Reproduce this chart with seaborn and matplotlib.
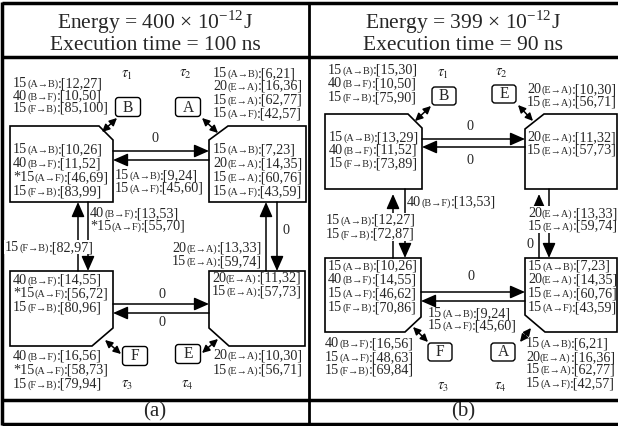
import re
import matplotlib.pyplot as plt
import seaborn as sns
from matplotlib.patches import Polygon, FancyBboxPatch, Rectangle

sns.set_theme(style="white")
plt.rcParams["font.family"] = ["Liberation Serif", "DejaVu Serif"]
plt.rcParams["mathtext.fontset"] = "stix"

# ---- valores del diagrama ----
energy = [400, 399]
exec_time = [100, 90]
tags = ["(a)", "(b)"]
nodes_a = ["B", "A", "F", "E"]
nodes_b = ["B", "E", "F", "A"]
taus = [r"$\tau_1$", r"$\tau_2$", r"$\tau_3$", r"$\tau_4$"]

# panel (a)
a_tl_out = ["15(A→B):[12,27]", "40(B→F):[10,50]", "15(F→B):[85,100]"]
a_tl_in = ["15(A→B):[10,26]", "40(B→F):[11,52]", "*15(A→F):[46,69]", "15(F→B):[83,99]"]
a_tr_out = ["15(A→B):[6,21]", "20(E→A):[16,36]", "15(E→A):[62,77]", "15(A→F):[42,57]"]
a_tr_in = ["15(A→B):[7,23]", "20(E→A):[14,35]", "15(E→A):[60,76]", "15(A→F):[43,59]"]
a_mid_top = ["15(A→B):[9,24]", "15(A→F):[45,60]"]
a_left_down = ["40(B→F):[13,53]", "*15(A→F):[55,70]"]
a_left_up = ["15(F→B):[82,97]"]
a_right_up = ["20(E→A):[13,33]", "15(E→A):[59,74]"]
a_bl_in = ["40(B→F):[14,55]", "*15(A→F):[56,72]", "15(F→B):[80,96]"]
a_br_in = ["20(E→A):[11,32]", "15(E→A):[57,73]"]
a_bl_out = ["40(B→F):[16,56]", "*15(A→F):[58,73]", "15(F→B):[79,94]"]
a_br_out = ["20(E→A):[10,30]", "15(E→A):[56,71]"]

# panel (b)
b_tl_out = ["15(A→B):[15,30]", "40(B→F):[10,50]", "15(F→B):[75,90]"]
b_tl_in = ["15(A→B):[13,29]", "40(B→F):[11,52]", "15(F→B):[73,89]"]
b_tr_out = ["20(E→A):[10,30]", "15(E→A):[56,71]"]
b_tr_in = ["20(E→A):[11,32]", "15(E→A):[57,73]"]
b_left_down = ["40(B→F):[13,53]"]
b_left_up = ["15(A→B):[12,27]", "15(F→B):[72,87]"]
b_right_up = ["20(E→A):[13,33]", "15(E→A):[59,74]"]
b_bl_in = ["15(A→B):[10,26]", "40(B→F):[14,55]", "15(A→F):[46,62]", "15(F→B):[70,86]"]
b_br_in = ["15(A→B):[7,23]", "20(E→A):[14,35]", "15(E→A):[60,76]", "15(A→F):[43,59]"]
b_mid_bot = ["15(A→B):[9,24]", "15(A→F):[45,60]"]
b_bl_out = ["40(B→F):[16,56]", "15(A→F):[48,63]", "15(F→B):[69,84]"]
b_br_out = ["15(A→B):[6,21]", "20(E→A):[16,36]", "15(E→A):[62,77]", "15(A→F):[42,57]"]

# ---- figura ----
fig = plt.figure(figsize=(6.18, 4.26), dpi=100)
ax = fig.add_axes([0, 0, 1, 1])
ax.set_xlim(0, 618)
ax.set_ylim(426, 0)
ax.axis("off")
R = fig.canvas.get_renderer()

BIG, SMALL = 10.2, 7.4


def label(x, y, s, ha="left", bg=False):
    m = re.match(r"(\*?\d+)(\(.*?\))(.*)", s)
    parts = [(m.group(1), BIG), (m.group(2), SMALL), (m.group(3), BIG)]
    ts = [ax.text(0, y + 4, p, fontsize=sz, va="baseline", ha="left", zorder=5) for p, sz in parts]
    ws = [t.get_window_extent(R).width for t in ts]
    x0 = x - sum(ws) if ha == "right" else x
    if bg:
        ax.add_patch(Rectangle((x0 - 1, y - 7), sum(ws) + 2, 14, fc="white", ec="none", zorder=4))
    for t, w in zip(ts, ws):
        t.set_x(x0)
        x0 += w


def column(x, ys, labels, **kw):
    for y, s in zip(ys, labels):
        label(x, y, s, **kw)


def arrow(p, q):
    ax.annotate("", xy=q, xytext=p, zorder=3,
                arrowprops=dict(arrowstyle="-|>,head_length=0.5,head_width=0.22", mutation_scale=18,
                                lw=1.1, color="black", shrinkA=0, shrinkB=0))


def darrow(p, q):
    ax.annotate("", xy=q, xytext=p, zorder=3,
                arrowprops=dict(arrowstyle="<|-|>,head_length=0.45,head_width=0.22", mutation_scale=10,
                                lw=1.1, color="black", shrinkA=0, shrinkB=0))


def box(pts):
    ax.add_patch(Polygon(pts, closed=True, fill=False, ec="black", lw=1.2, zorder=2))


def node(cx, cy, s, w=25, h=19):
    ax.add_patch(FancyBboxPatch((cx - w / 2, cy - h / 2), w, h, boxstyle="round,pad=0,rounding_size=3",
                                fc="white", ec="black", lw=1, zorder=2))
    ax.text(cx, cy + 0.5, s, fontsize=BIG + 1, ha="center", va="center", zorder=5)


def zero(x, y):
    ax.text(x, y, "0", fontsize=BIG, ha="center", va="center", zorder=5)


def tau(x, y, s):
    ax.text(x, y, s, fontsize=10.5, ha="center", va="center", zorder=5)


# tabla
for xs, ys, lw in [([2, 618], [3, 3], 2.5), ([2, 618], [57, 57], 2.5), ([2, 618], [400, 400], 2.5),
                   ([2, 618], [424, 424], 2.5), ([2, 2], [2, 425], 2.5), ([309, 309], [2, 425], 2)]:
    ax.plot(xs, ys, color="black", lw=lw, solid_capstyle="butt")

for i, cx in enumerate([155, 463]):
    ax.text(cx, 22, "Energy = " + str(energy[i]) + r" × 10$^{\mathregular{-12}}$J", fontsize=15.5,
            ha="center", va="center")
    ax.text(cx, 45, "Execution time = " + str(exec_time[i]) + " ns", fontsize=15.5, ha="center", va="center")
    ax.text(cx, 412, tags[i], fontsize=15, ha="center", va="center")

# ---- panel (a) ----
box([(10, 126), (99, 126), (113, 140), (113, 202), (10, 202)])
box([(209, 140), (228, 126), (306, 126), (306, 202), (209, 202)])
box([(10, 271), (113, 271), (113, 328), (92, 346), (10, 346)])
box([(209, 271), (305, 271), (305, 346), (229, 346), (209, 328)])
for (cx, cy), s in zip([(128, 107), (188, 107), (135, 356), (188, 354)], nodes_a):
    node(cx, cy, s)
darrow((102, 132), (117, 118))
darrow((218, 133), (202, 118))
darrow((105, 340), (121, 354))
darrow((202, 353), (218, 339))
arrow((113, 151), (209, 151))
arrow((209, 160), (113, 160))
arrow((113, 304), (209, 304))
arrow((209, 313), (113, 313))
arrow((78, 271), (78, 202))
arrow((88, 202), (88, 271))
arrow((266, 271), (266, 202))
arrow((277, 202), (277, 271))
zero(155, 139)
zero(162, 295)
zero(162, 322)
zero(286, 231)
for (x, y), s in zip([(127, 75), (185, 74), (127, 385), (187, 385)], taus):
    tau(x, y, s)
column(13, [83, 96, 108], a_tl_out)
column(13, [149, 163, 177, 191], a_tl_in)
column(213, [73, 86, 100, 113], a_tr_out)
column(213, [149, 163, 177, 191], a_tr_in)
column(115, [175, 188], a_mid_top)
column(90, [213, 226], a_left_down)
column(5, [247], a_left_up, bg=True)
column(262, [248, 261], a_right_up, ha="right", bg=True)
column(13, [280, 293, 307], a_bl_in)
column(212, [278, 291], a_br_in)
column(13, [356, 370, 384], a_bl_out)
column(213, [355, 370], a_br_out)

# ---- panel (b) ----
box([(325, 114), (408, 114), (422, 128), (422, 189), (325, 189)])
box([(525, 129), (544, 114), (617, 114), (617, 189), (525, 189)])
box([(325, 258), (421, 258), (421, 317), (405, 332), (325, 332)])
box([(525, 258), (617, 258), (617, 332), (545, 332), (525, 315)])
for (cx, cy), s in zip([(444, 96), (504, 94), (440, 352), (503, 352)], nodes_b):
    node(cx, cy, s, w=24, h=18)
darrow((415, 121), (431, 106))
darrow((533, 121), (518, 105))
darrow((413, 327), (428, 342))
darrow((520, 342), (531, 328))
arrow((422, 139), (525, 139))
arrow((525, 147), (422, 147))
arrow((421, 292), (525, 292))
arrow((525, 301), (421, 301))
arrow((393, 258), (393, 194))
arrow((405, 189), (405, 258))
arrow((539, 258), (539, 194))
arrow((549, 189), (549, 258))
zero(470, 127)
zero(470, 160)
zero(471, 277)
zero(530, 245)
for (x, y), s in zip([(443, 74), (501, 73), (443, 387), (500, 387)], taus):
    tau(x, y, s)
column(328, [70, 83, 97], b_tl_out)
column(329, [137, 150, 163], b_tl_in)
column(527, [89, 102], b_tr_out)
column(527, [137, 150], b_tr_in)
column(407, [202], b_left_down)
column(326, [220, 234], b_left_up, bg=True)
column(528, [213, 226], b_right_up, bg=True)
column(328, [266, 279, 293, 307], b_bl_in)
column(528, [266, 279, 293, 307], b_br_in)
column(428, [313, 325], b_mid_bot)
column(325, [343, 357, 370], b_bl_out)
column(526, [343, 357, 369, 383], b_br_out)

fig.savefig("out.png", dpi=100)
